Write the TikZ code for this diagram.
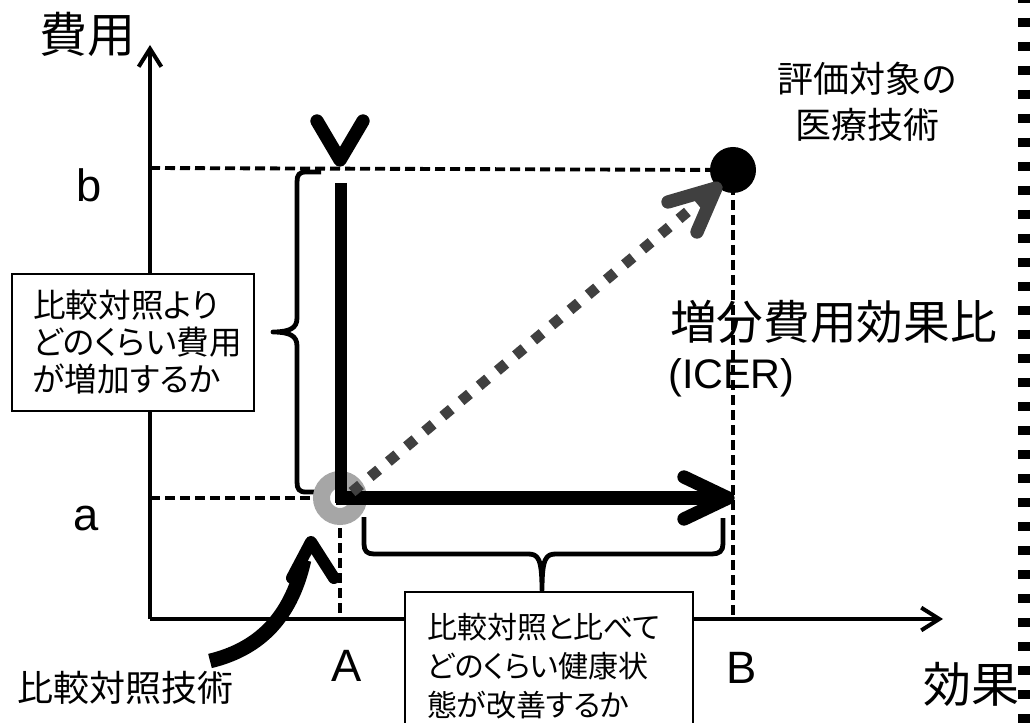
\documentclass[tikz,border=0pt]{standalone}
\usepackage{fontspec}
\setmainfont{Liberation Sans}
\newfontfamily\jp{Noto Sans CJK JP}
\newfontfamily\jpp[RawFeature=+palt]{Noto Sans CJK JP}
\usetikzlibrary{arrows.meta}
\definecolor{ringgray}{HTML}{A6A6A6}
\definecolor{darkgray}{HTML}{404040}
\tikzset{
  axisline/.style={line width=3pt,-{Straight Barb[length=13.5pt,width=17pt]}},
  guide/.style={line width=2.9pt,dash pattern=on 7.5pt off 3.75pt},
  boldline/.style={line width=10pt},
  chev/.style={line width=10pt,line cap=round,line join=round},
  bracepath/.style={line width=3.6pt,line join=round},
  tbox/.style={draw,line width=2pt,fill=white,align=left},
  biglabel/.style={font=\jp\fontsize{36pt}{36pt}\selectfont,inner sep=0},
  midlabel/.style={font=\jp\fontsize{27pt}{34.5pt}\selectfont,inner sep=0,align=center},
  latinlabel/.style={font=\fontsize{34pt}{34pt}\selectfont,inner sep=0},
}
\begin{document}
\begin{tikzpicture}[x=0.75pt,y=-0.75pt]
\useasboundingbox (0,0) rectangle (1031,723);
\clip (0,0) rectangle (1031,723);
% right dotted border
\coordinate (bt) at (1024,-6);
\coordinate (bb) at (1024,740);
\draw[line width=9pt,dash pattern=on 6.75pt off 11.25pt] (bt) -- (bb);
% coordinates
\coordinate (O) at (150,619);
\coordinate (ytip) at (150,45);
\coordinate (xtip) at (943,619);
\coordinate (yb) at (150,168);
\coordinate (ya) at (150,498);
\coordinate (xA) at (340,619);
\coordinate (xB) at (733,619);
% axes
\draw[axisline] (O) -- (ytip);
\draw[axisline] (O) -- (xtip);
% points
\node[circle,fill=black,minimum size=34.5pt,inner sep=0] (evalpt) at (733,170) {};
\coordinate (refc) at (340,498);
% guides
\draw[guide] (yb) -- (evalpt.center);
\draw[guide] (ya) -- (refc);
\draw[guide] (refc) -- (xA);
\draw[guide] (evalpt.center) -- (xB);
% boxes
\node[tbox,minimum width=181.5pt,minimum height=102.75pt,inner xsep=15.75pt,text width=150pt,
  font=\jpp\fontsize{24.5pt}{27.75pt}\selectfont] (costbox) at (133,342.5)
  {比較対照より\\どのくらい費用\\が増加するか};
\node[tbox,minimum width=216pt,minimum height=111pt,inner xsep=16.5pt,text width=183pt,
  font=\jpp\fontsize{22.5pt}{29pt}\selectfont] (effbox) at (549,666)
  {比較対照と比べて\\どのくらい健康状\\態が改善するか};
% braces
\draw[bracepath] (321,172) -- (306,172) .. controls (299,172) and (297,175) .. (297,182)
  -- (297,318) .. controls (297,328) and (290,332) .. (273,332)
  .. controls (290,332) and (297,336) .. (297,346)
  -- (297,482) .. controls (297,489) and (299,492) .. (306,492) -- (322,492);
\draw[bracepath] (364,517) -- (364,544) .. controls (364,551) and (367,554) .. (374,554)
  -- (528,554) .. controls (538,554) and (542,558) .. (542,590)
  .. controls (542,558) and (546,554) .. (556,554)
  -- (712,554) .. controls (719,554) and (723,551) .. (723,544) -- (723,518);
% reference ring
\node[circle,draw=ringgray,line width=12.75pt,fill=white,minimum size=27.75pt,inner sep=0] (refpt) at (refc) {};
% thick black lines
\coordinate (vtop) at (341,183);
\coordinate (vbot) at (341,503);
\draw[line width=9pt] (vtop) -- (vbot);
\coordinate (hstart) at (336,498);
\coordinate (htip) at (728,498);
\draw[boldline] (hstart) -- (724,498);
\draw[chev] (684,477) -- (htip) -- (684,519);
\coordinate (vapex) at (340,160);
\draw[chev] (317,121) -- (vapex) -- (363,121);
% gray dotted diagonal
\coordinate (dstart) at (352,492);
\coordinate (dtip) at (716,188);
\draw[darkgray,line width=8pt,dash pattern=on 8.25pt off 9.5pt] (dstart) -- (710,193);
\draw[chev,darkgray] (668,202) -- (dtip) -- (697,232);
% curved arrow to reference
\coordinate (ctail) at (210,661);
\coordinate (chead) at (311,542);
\draw[line width=11pt] (ctail) .. controls (255,650) and (290,622) .. (304,560);
\draw[chev,line width=9pt] (292,578) -- (chead) -- (334,578);
% labels
\node[biglabel] (ylab) at (87,34) {費用};
\node[biglabel] (xlab) at (971,684) {効果};
\node[latinlabel] (lb) at (89,185) {b};
\node[latinlabel] (la) at (86,519) {a};
\node[latinlabel] (lA) at (347,666) {A};
\node[latinlabel] (lB) at (742,668) {B};
\node[midlabel] (reflab) at (125,688) {比較対照技術};
\node[midlabel] (evallab) at (867,102) {評価対象の\\医療技術};
\node[font=\jp\fontsize{35pt}{35pt}\selectfont,inner sep=0,anchor=west] (icerjp) at (670,322) {増分費用効果比};
\node[font=\fontsize{31pt}{31pt}\selectfont,inner sep=0,anchor=west] (icer) at (668,378) {(ICER)};
\end{tikzpicture}
\end{document}
